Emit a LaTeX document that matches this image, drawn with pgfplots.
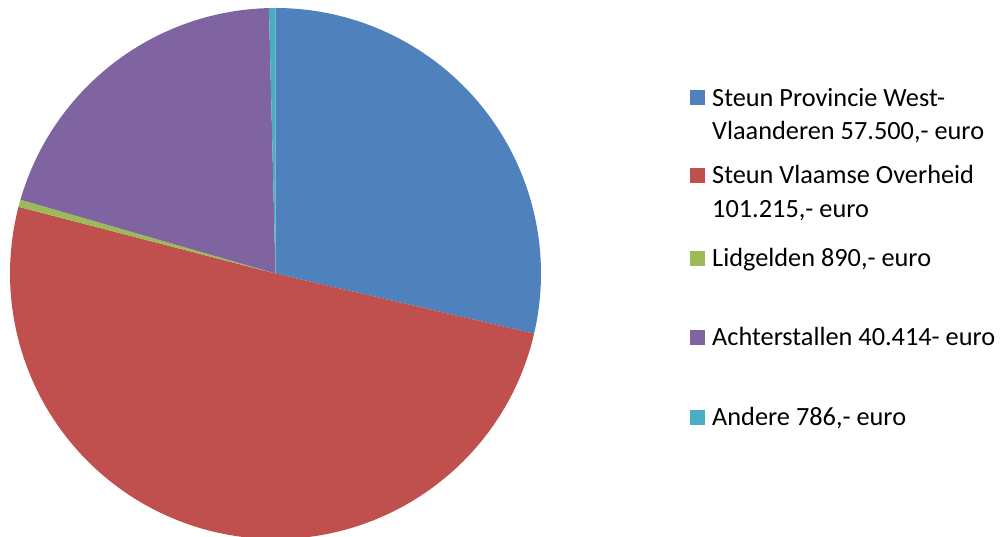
\documentclass[border=0pt]{standalone}
\usepackage{pgfplots}
\usepackage{pgfplotstable}
\pgfplotsset{compat=1.18}
\usepackage{fontspec}
\setmainfont{Carlito}
\definecolor{cA}{HTML}{4F81BD}
\definecolor{cB}{HTML}{C0504D}
\definecolor{cC}{HTML}{9BBB59}
\definecolor{cD}{HTML}{8064A2}
\definecolor{cE}{HTML}{4BACC6}
\pgfplotstableread[col sep=comma]{
label,value
Steun Provincie West-Vlaanderen,57500
Steun Vlaamse Overheid,101215
Lidgelden,890
Achterstallen,40414
Andere,786
}\piedata
\pgfplotstablegetelem{0}{value}\of\piedata \let\va\pgfplotsretval
\pgfplotstablegetelem{1}{value}\of\piedata \let\vb\pgfplotsretval
\pgfplotstablegetelem{2}{value}\of\piedata \let\vc\pgfplotsretval
\pgfplotstablegetelem{3}{value}\of\piedata \let\vd\pgfplotsretval
\pgfplotstablegetelem{4}{value}\of\piedata \let\ve\pgfplotsretval
\edef\tot{\fpeval{\va+\vb+\vc+\vd+\ve}}
\edef\aA{\fpeval{90-360*\va/\tot}}
\edef\aB{\fpeval{\aA-360*\vb/\tot}}
\edef\aC{\fpeval{\aB-360*\vc/\tot}}
\edef\aD{\fpeval{\aC-360*\vd/\tot}}
\edef\aE{\fpeval{\aD-360*\ve/\tot}}
\def\R{265.5pt}
\begin{document}
\begin{tikzpicture}[x=1pt,y=1pt]
\useasboundingbox (0,0) rectangle (1006,537);
\begin{axis}[
  at={(10pt,-2pt)}, anchor=south west,
  scale only axis, width=531pt, height=531pt,
  xmin=-1, xmax=1, ymin=-1, ymax=1,
  hide axis, clip=false]
\fill[cA] (axis cs:0,0) -- ++(90:\R) arc[start angle=90, end angle=\aA, radius=\R] -- cycle;
\fill[cB] (axis cs:0,0) -- ++(\aA:\R) arc[start angle=\aA, end angle=\aB, radius=\R] -- cycle;
\fill[cC] (axis cs:0,0) -- ++(\aB:\R) arc[start angle=\aB, end angle=\aC, radius=\R] -- cycle;
\fill[cD] (axis cs:0,0) -- ++(\aC:\R) arc[start angle=\aC, end angle=\aD, radius=\R] -- cycle;
\fill[cE] (axis cs:0,0) -- ++(\aD:\R) arc[start angle=\aD, end angle=\aE, radius=\R] -- cycle;
\end{axis}
\fontsize{26.3}{32}\selectfont
% legend
\fill[cA] (690,537-105) rectangle (705,537-90);
\node[anchor=base west, inner sep=0] at (712,537-106.7) {Steun Provincie West-};
\node[anchor=base west, inner sep=0] at (712,537-139.3) {Vlaanderen 57.500,- euro};
\fill[cB] (690,537-183) rectangle (705,537-168);
\node[anchor=base west, inner sep=0] at (712,537-184) {Steun Vlaamse Overheid};
\node[anchor=base west, inner sep=0] at (712,537-217.3) {101.215,- euro};
\fill[cC] (690,537-265.7) rectangle (705,537-250.7);
\node[anchor=base west, inner sep=0] at (712,537-266.7) {Lidgelden 890,- euro};
\fill[cD] (690,537-345) rectangle (705,537-330);
\node[anchor=base west, inner sep=0] at (712,537-346) {Achterstallen 40.414- euro};
\fill[cE] (690,537-425) rectangle (705,537-410);
\node[anchor=base west, inner sep=0] at (712,537-426) {Andere 786,- euro};
\end{tikzpicture}
\end{document}
